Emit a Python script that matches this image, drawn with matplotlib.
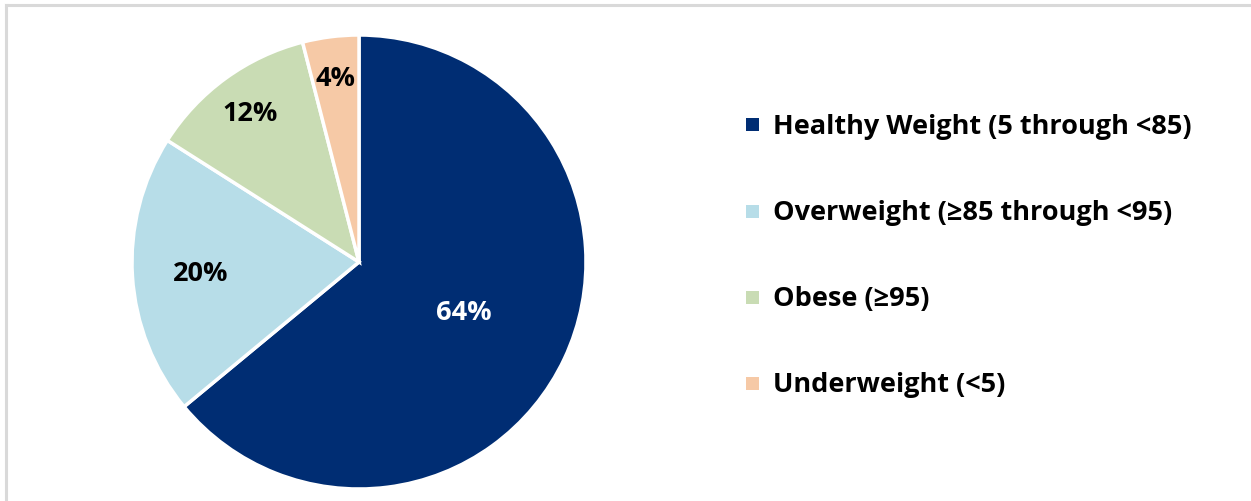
import numpy as np
import matplotlib.pyplot as plt
from matplotlib.patches import Rectangle
from matplotlib.lines import Line2D

plt.rcParams["font.family"] = ["Open Sans", "DejaVu Sans"]

categories = [
    "Healthy Weight (5 through <85)",
    "Overweight (\u226585 through <95)",
    "Obese (\u226595)",
    "Underweight (<5)",
]
shares = [64, 20, 12, 4]
colors = ["#002D73", "#B7DDE8", "#C9DCB4", "#F6C9A6"]
label_colors = ["white", "black", "black", "black"]
label_radius = [0.51, 0.70, 0.815, 0.82]

W, H = 1251, 501
fig = plt.figure(figsize=(W / 100, H / 100), dpi=100)

# frame line along the top and left edge
fig.add_artist(Line2D([6 / W, 6 / W], [0, 1 - 4.5 / H], color="#D9D9D9", lw=2.2))
fig.add_artist(Line2D([6 / W, 1], [1 - 4.5 / H, 1 - 4.5 / H], color="#D9D9D9", lw=2.2))

cx, cy, r = 359, 262, 227
ax = fig.add_axes([(cx - r) / W, (H - cy - r) / H, 2 * r / W, 2 * r / H])
wedges, _ = ax.pie(
    shares,
    colors=colors,
    startangle=90,
    counterclock=False,
    radius=1.0,
    wedgeprops=dict(edgecolor="white", linewidth=2.5),
)
ax.set_xlim(-1, 1)
ax.set_ylim(-1, 1)
ax.set_aspect("equal")
ax.axis("off")

dy = 2.0 / r  # nudge labels down a couple of pixels
for w, val, rr, tc in zip(wedges, shares, label_radius, label_colors):
    mid = np.deg2rad((w.theta1 + w.theta2) / 2)
    ax.text(rr * np.cos(mid), rr * np.sin(mid) - dy, f"{val}%",
            ha="center", va="center", fontsize=19.5, fontweight="bold", color=tc)

# legend entries
ys = [125, 211, 297, 383]
for name, col, y in zip(categories, colors, ys):
    fig.add_artist(Rectangle(((752 - 6.5) / W, 1 - (y + 6.5) / H), 13 / W, 13 / H,
                             facecolor=col, edgecolor="none", transform=fig.transFigure))
    fig.text(773 / W, 1 - (y + 2) / H, name, ha="left", va="center",
             fontsize=19.5, fontweight="bold", color="black")

fig.savefig("out.png", dpi=100, facecolor="white")
